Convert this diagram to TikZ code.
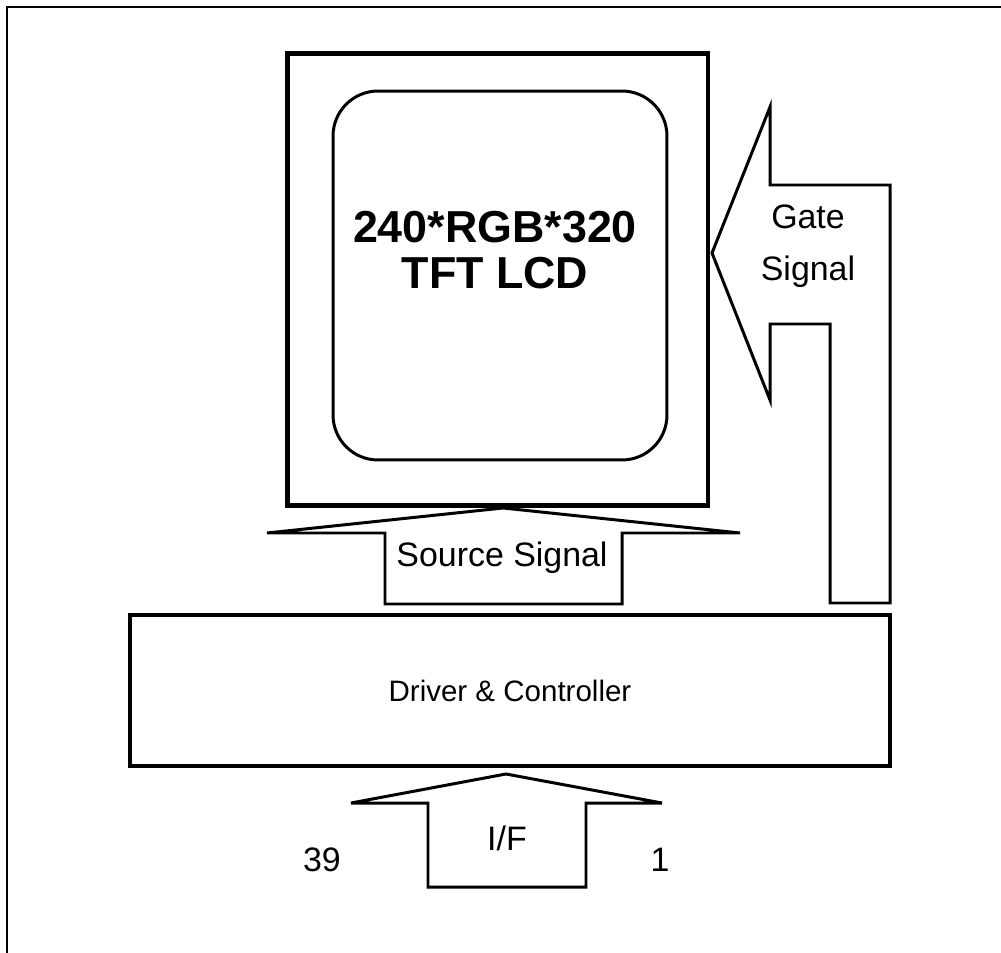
\documentclass[tikz,border=0pt]{standalone}
\usepackage{fontspec}
\setmainfont{Liberation Sans}
\usetikzlibrary{positioning}

\begin{document}
\begin{tikzpicture}[x=0.02cm, y=-0.02cm,
    every node/.style={font=\fontsize{19.3}{29.5}\selectfont, align=center, inner sep=0pt},
    panel/.style={draw, line width=2.8pt},
    blockarrow/.style={draw, line width=1.7pt, line join=miter}]
  \useasboundingbox (0,0) rectangle (1001,953);
  \draw[line width=1.1pt] (1001,7) -- (7,7) -- (7,953);

  % display
  \node[panel, minimum width=8.42cm, minimum height=9.06cm] (lcd) at (497.5,279.5) {};
  \node[draw, line width=1.7pt, rounded corners=0.9cm,
        minimum width=6.68cm, minimum height=7.38cm] (screen) at (500,275.5) {};
  \node[font=\fontsize{25.5}{26.5}\selectfont\bfseries] (title) at (495,250)
        {240*RGB*320\\TFT LCD};

  % driver
  \node[draw, line width=2.5pt, minimum width=15.2cm, minimum height=3.02cm,
        font=\fontsize{16.8}{20}\selectfont]
        (drv) at (510,690.5) {Driver \& Controller};

  % signals
  \draw[blockarrow] (503,508) -- (740,533) -- (622,533) -- (622,604)
        -- (385,604) -- (385,533) -- (267,533) -- cycle;
  \node (src) at (502,558) {Source Signal};
  \draw[blockarrow] (712,253) -- (770,107) -- (770,185) -- (890,185)
        -- (890,603) -- (830,603) -- (830,324) -- (770,324) -- (770,400) -- cycle;
  \node (gate) at (808,246) {Gate\\Signal};
  \draw[blockarrow] (506,774) -- (662,803) -- (586,803) -- (586,887)
        -- (428,887) -- (428,803) -- (351,803) -- cycle;
  \node (ifc) at (507,838) {I/F};
  \node (pinA) at (322,860) {39};
  \node (pinB) at (660,860) {1};
\end{tikzpicture}
\end{document}
